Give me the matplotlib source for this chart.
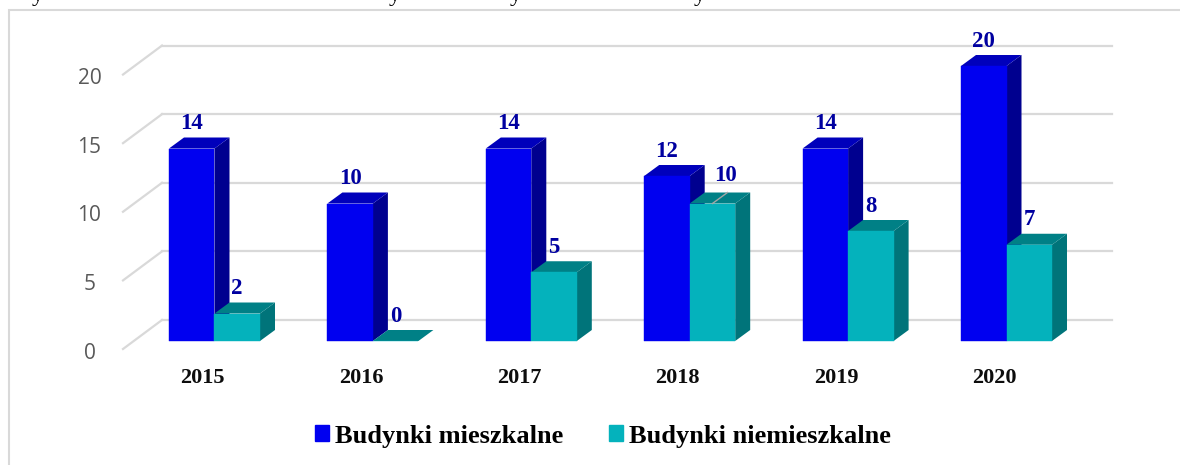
import matplotlib
matplotlib.use('Agg')
import matplotlib.pyplot as plt
from matplotlib.patches import Patch, Rectangle

years = ['2015', '2016', '2017', '2018', '2019', '2020']
mieszkalne = [14, 10, 14, 12, 14, 20]
niemieszkalne = [2, 0, 5, 10, 8, 7]
yticks = [0, 5, 10, 15, 20]

W, H = 1180, 465
group_px = 158.4
unit_px = 13.75
x0_px = 214.5
y0_px = 341

fig = plt.figure(figsize=(W / 100, H / 100), dpi=100)
ax = fig.add_axes([0, 0, 1, 1])
ax.set_xlim(-x0_px / group_px, (W - x0_px) / group_px)
ax.set_ylim((y0_px - H) / unit_px, y0_px / unit_px)
ax.axis('off')

# px -> data sizes
bar_w = 45.5 / group_px
dx = 15 / group_px
dy = 11 / unit_px
back_dy = 21 / unit_px
serif = 'Liberation Serif'


def bar3d(x, v, front, top, side):
    # side and top first, the front goes over them
    ax.fill([x + bar_w / 2, x + bar_w / 2 + dx, x + bar_w / 2 + dx, x + bar_w / 2],
            [0, dy, v + dy, v], color=side, lw=0, zorder=3)
    ax.fill([x - bar_w / 2, x - bar_w / 2 + dx, x + bar_w / 2 + dx, x + bar_w / 2],
            [v, v + dy, v + dy, v], color=top, lw=0, zorder=3)
    ax.bar(x, v, bar_w, color=front, edgecolor=front, lw=0.3, zorder=3)


# gridlines on back wall + the diagonal on the floor side
for v in yticks:
    yb = v * 0.998 + back_dy
    ax.plot([(162 - x0_px) / group_px, (1112 - x0_px) / group_px], [yb, yb],
            color='#d9d9d9', lw=1.6, zorder=1)
    ax.plot([(123 - x0_px) / group_px, (162 - x0_px) / group_px], [yb - 29 / unit_px, yb],
            color='#d9d9d9', lw=1.6, zorder=1)
    ax.text((89.5 - x0_px) / group_px, yb - 33 / unit_px, str(v), fontsize=15, family='Open Sans',
            color='#595959', ha='center', va='center')

for i, year in enumerate(years):
    xa = i - bar_w / 2
    xb = i + bar_w / 2
    a = mieszkalne[i]
    b = niemieszkalne[i]
    bar3d(xa, a, '#0000f0', '#0000bb', '#00008f')
    bar3d(xb, b, '#04b2bc', '#008086', '#00747a')

    ax.text(xa, a + 25 / unit_px, str(a), fontsize=16.5, family=serif, weight='bold',
            color='#0000a0', ha='center', va='center', zorder=5)
    if year == '2018':
        # this label was dragged away in the original, has a leader line
        ax.plot([xb, xb + dx], [b, b + dy], color='#a6a6a6', lw=1, zorder=4)
        ax.text(xb + 13 / group_px, b + 28 / unit_px, str(b), fontsize=16.5, family=serif,
                weight='bold', color='#0000a0', ha='center', va='center', zorder=5)
    else:
        ax.text(xb, b + 25 / unit_px, str(b), fontsize=16.5, family=serif, weight='bold',
                color='#0000a0', ha='center', va='center', zorder=5)
    ax.text(i - 12 / group_px, -37 / unit_px, year, fontsize=16, family=serif, weight='bold',
            color='#0d0d0d', ha='center', va='center')

# chart frame, runs off the picture on right and bottom
fig.add_artist(Rectangle((9 / W, -0.05), 1.1, 1.05 - 10 / H, transform=fig.transFigure,
                         fill=False, edgecolor='#d9d9d9', lw=1.5))

# tails of the text line cut off above the chart
for x_px in [38, 395, 516, 700]:
    fig.text(x_px / W, 1 - 1 / H, 'y', fontsize=17, family=serif, color='black',
             ha='center', va='baseline')

handles = [Patch(color='#0000f0'), Patch(color='#04b2bc')]
fig.legend(handles, ['Budynki mieszkalne', 'Budynki niemieszkalne'], loc='center',
           bbox_to_anchor=(603 / W, 1 - 436 / H), ncols=2, frameon=False,
           prop={'family': serif, 'weight': 'bold', 'size': 19},
           handlelength=0.53, handleheight=0.53, handletextpad=0.23, columnspacing=1.74)

fig.savefig('out.png', dpi=100)
